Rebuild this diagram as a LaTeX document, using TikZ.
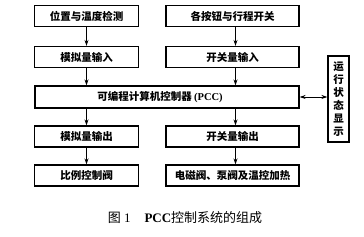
\documentclass[tikz,border=0pt]{standalone}
\usepackage{fontspec}
\newfontfamily\cjk{Noto Sans CJK SC}
\setmainfont{Liberation Serif}
\usetikzlibrary{arrows.meta}
\begin{document}
\begin{tikzpicture}[x=1pt,y=-1pt,
  blk/.style={draw,line width=1.1pt,minimum height=21pt,inner sep=0pt,font=\cjk\bfseries\fontsize{10.5}{12}\selectfont},
  arr/.style={line width=0.8pt,-{Stealth[length=6pt,width=4pt]}},
  darr/.style={line width=0.8pt,{Stealth[length=6pt,width=4pt]}-{Stealth[length=6pt,width=4pt]}}]
\useasboundingbox (0,0) rectangle (364,237);
% left column
\node[blk,minimum width=104pt] (a1) at (86.5,16) {位置与温度检测};
\node[blk,minimum width=104pt] (a2) at (86.5,57) {模拟量输入};
\node[blk,minimum width=104pt] (a3) at (86.5,136.5) {模拟量输出};
\node[blk,minimum width=104pt] (a4) at (86.5,175.5) {比例控制阀};
% right column
\node[blk,minimum width=133pt] (b1) at (232.5,16) {各按钮与行程开关};
\node[blk,minimum width=133pt] (b2) at (232.5,57) {开关量输入};
\node[blk,minimum width=133pt] (b3) at (232.5,136.5) {开关量输出};
\node[blk,minimum width=133pt] (b4) at (232.5,175.5) {电磁阀、泵阀及温控加热};
% PCC
\node[blk,minimum width=264pt,minimum height=22pt] (pcc) at (167,97) {\hspace*{-14pt}可编程计算机控制器 {\fontspec{Liberation Serif}\bfseries(PCC)}};
% side
\node[blk,minimum width=21pt,minimum height=86pt,align=center,font=\cjk\bfseries\fontsize{10.5}{13}\selectfont] (side) at (338.5,99) {运\\行\\状\\态\\显\\示};
% arrows
\draw[arr] (a1.south) -- (a2.north);
\draw[arr] (a2.south) -- (a2.south |- pcc.north);
\draw[arr] (a3.north |- pcc.south) -- (a3.north);
\draw[arr] (a3.south) -- (a4.north);
\draw[arr] ([xshift=3pt]b1.south) -- ([xshift=3pt]b2.north);
\draw[arr] ([xshift=3pt]b2.south) -- ([xshift=3pt]b2.south |- pcc.north);
\draw[arr] ([xshift=3pt]b3.north |- pcc.south) -- ([xshift=3pt]b3.north);
\draw[arr] ([xshift=3pt]b3.south) -- ([xshift=3pt]b4.north);
\draw[darr] (pcc.east |- 0,97) -- (side.west |- 0,97);
% caption
\node[font=\fontsize{13}{15}\selectfont] (cap) at (185,218) {{\cjk 图} 1\hspace{14pt}\textbf{PCC}{\cjk 控制系统的组成}};
\end{tikzpicture}
\end{document}
